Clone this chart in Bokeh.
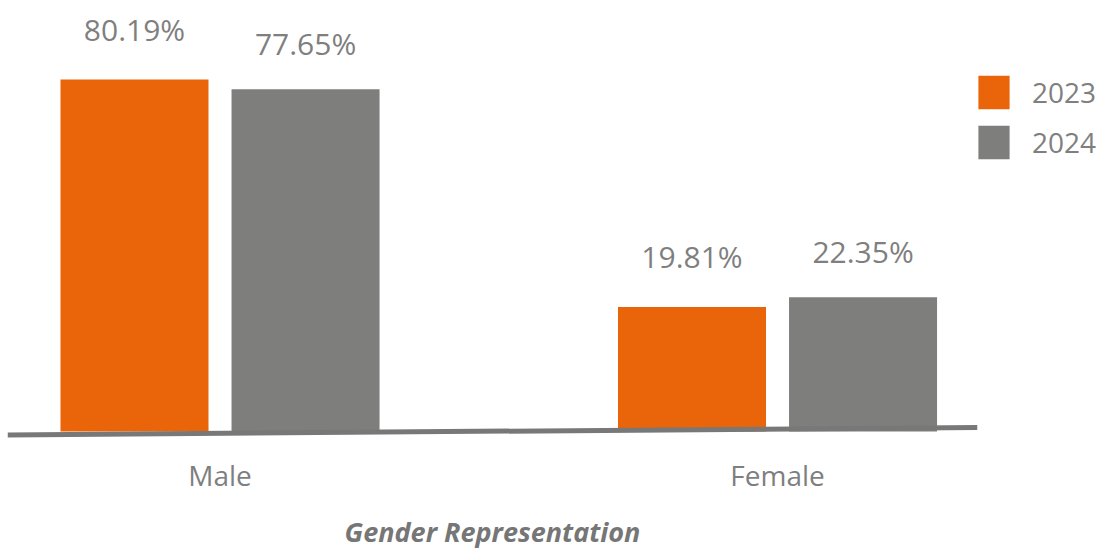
from bokeh.plotting import figure
from bokeh.models import ColumnDataSource, FixedTicker, Range1d, Legend, LegendItem
from bokeh.transform import dodge
from bokeh.core.properties import value
from bokeh.embed import file_html
from bokeh.resources import INLINE

# ---- data ----
categories = ["Male", "Female"]
years = ["2023", "2024"]
values_2023 = [80.19, 19.81]
values_2024 = [77.65, 22.35]
labels_2023 = ["80.19%", "19.81%"]
labels_2024 = ["77.65%", "22.35%"]

# ---- styling ----
ORANGE = "#EA6509"
GREY = "#7E7E7C"
TEXT = "#7F7F7F"
FONT_NAME = "Open Sans"
FONT = value(FONT_NAME)

X_START, X_END = -0.3812, 1.3587
Y_START, Y_END = -15.14, 101.2
BASE = -13.28
OFF = 0.1534
BW = 0.2655

src = ColumnDataSource(dict(
    xi=list(range(len(categories))),
    v2023=values_2023, v2024=values_2024,
    l2023=labels_2023, l2024=labels_2024,
))

p = figure(frame_width=970, frame_height=438,
           x_range=Range1d(X_START, X_END), y_range=Range1d(Y_START, Y_END),
           output_backend="svg", toolbar_location=None,
           min_border_left=7, min_border_top=0, min_border_right=123, min_border_bottom=100)

r1 = p.vbar(x=dodge("xi", -OFF, range=p.x_range), top="v2023", bottom=BASE, width=BW,
            source=src, fill_color=ORANGE, line_color=None)
r2 = p.vbar(x=dodge("xi", OFF, range=p.x_range), top="v2024", bottom=BASE, width=BW,
            source=src, fill_color=GREY, line_color=None)

p.text(x=dodge("xi", -OFF, range=p.x_range), y="v2023", text="l2023", source=src,
       text_align="center", text_baseline="middle", y_offset=-50,
       text_font=FONT, text_font_size="30px", text_color=TEXT)
p.text(x=dodge("xi", OFF, range=p.x_range), y="v2024", text="l2024", source=src,
       text_align="center", text_baseline="middle", y_offset=-46,
       text_font=FONT, text_font_size="30px", text_color=TEXT)

# slightly tilted baseline rule
p.segment(x0=[X_START], y0=[-14.21], x1=[X_END], y1=[-12.22],
          line_color="#787878", line_width=5, line_cap="butt")

legend = Legend(items=[LegendItem(label=years[0], renderers=[r1]),
                       LegendItem(label=years[1], renderers=[r2])],
                location=(-3, 275), padding=0, margin=0, spacing=8,
                glyph_width=39, glyph_height=42, label_standoff=19,
                label_text_font=FONT_NAME, label_text_font_size="28px", label_text_color=TEXT,
                border_line_color=None, background_fill_alpha=0)
p.add_layout(legend, "right")

p.xaxis.ticker = FixedTicker(ticks=list(range(len(categories))))
p.xaxis.major_label_overrides = {i: c for i, c in enumerate(categories)}
p.xaxis.axis_line_color = None
p.xaxis.major_tick_line_color = None
p.xaxis.minor_tick_line_color = None
p.xaxis.major_label_standoff = 11
p.xaxis.major_label_text_font = FONT_NAME
p.xaxis.major_label_text_font_size = "28px"
p.xaxis.major_label_text_color = TEXT
p.xaxis.axis_label = "Gender Representation"
p.xaxis.axis_label_text_font = FONT_NAME
p.xaxis.axis_label_text_font_size = "27px"
p.xaxis.axis_label_text_font_style = "bold italic"
p.xaxis.axis_label_text_color = "#767676"
p.xaxis.axis_label_standoff = 16
p.yaxis.visible = False
p.grid.visible = False
p.outline_line_color = None

open("out.html", "w").write(file_html(p, INLINE))
